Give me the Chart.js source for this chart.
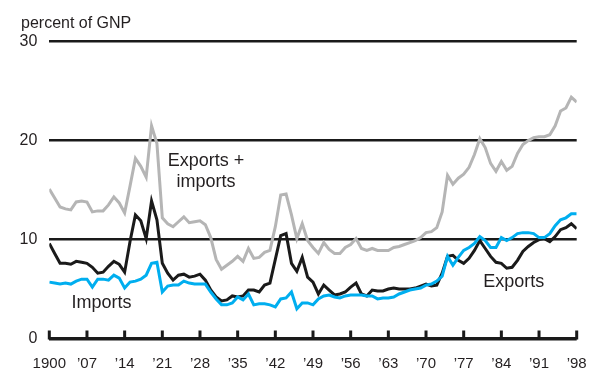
<!DOCTYPE html>
<html><head><meta charset="utf-8">
<script src="https://cdn.jsdelivr.net/npm/chart.js@4/dist/chart.umd.min.js"></script>
<style>html,body{margin:0;padding:0;background:#fff;}canvas{display:block}</style>
</head><body>
<canvas id="c" width="600" height="381"></canvas>
<script>
const years = [1900,1901,1902,1903,1904,1905,1906,1907,1908,1909,
1910,1911,1912,1913,1914,1915,1916,1917,1918,1919,
1920,1921,1922,1923,1924,1925,1926,1927,1928,1929,
1930,1931,1932,1933,1934,1935,1936,1937,1938,1939,
1940,1941,1942,1943,1944,1945,1946,1947,1948,1949,
1950,1951,1952,1953,1954,1955,1956,1957,1958,1959,
1960,1961,1962,1963,1964,1965,1966,1967,1968,1969,
1970,1971,1972,1973,1974,1975,1976,1977,1978,1979,
1980,1981,1982,1983,1984,1985,1986,1987,1988,1989,
1990,1991,1992,1993,1994,1995,1996,1997,1998];

const exportsPlusImports = [15.1,14.2,13.3,13.1,13.0,13.8,13.9,13.8,12.8,12.9,
12.9,13.5,14.3,13.7,12.7,15.4,18.2,17.4,16.3,21.5,
19.7,12.2,11.6,11.3,11.8,12.3,11.7,11.8,11.9,11.5,
10.2,8.0,7.0,7.4,7.8,8.3,7.8,9.1,8.1,8.2,
8.7,8.9,11.3,14.5,14.6,12.5,10.1,11.6,9.9,9.2,
8.6,9.7,9.0,8.6,8.6,9.2,9.5,10.1,9.1,8.9,
9.1,8.9,8.9,8.9,9.2,9.3,9.5,9.7,9.9,10.2,
10.7,10.8,11.2,12.8,16.5,15.6,16.2,16.6,17.3,18.6,
20.2,19.3,17.7,16.9,17.9,17.0,17.4,18.7,19.6,20.0,
20.3,20.4,20.4,20.6,21.5,23.0,23.3,24.4,23.9];

const exportsSeries = [9.6,8.6,7.6,7.6,7.5,7.8,7.7,7.6,7.2,6.6,
6.7,7.3,7.8,7.5,6.7,9.8,12.5,11.9,10.1,13.9,
12.0,7.6,6.6,5.9,6.4,6.5,6.2,6.3,6.5,5.9,
4.9,4.2,3.8,3.9,4.3,4.2,4.3,4.9,4.9,4.7,
5.4,5.6,8.0,10.4,10.6,7.6,6.8,8.2,6.2,5.7,
4.5,5.4,4.9,4.4,4.5,4.7,5.2,5.6,4.5,4.3,
4.9,4.8,4.8,5.0,5.1,5.0,5.0,5.0,5.1,5.3,
5.5,5.3,5.4,6.6,8.3,8.4,7.9,7.6,8.1,8.9,
9.9,9.1,8.3,7.7,7.6,7.1,7.2,7.9,8.8,9.3,
9.7,10.0,10.1,9.8,10.3,11.0,11.2,11.6,11.1];

const importsSeries = [5.7,5.6,5.5,5.6,5.5,5.8,6.0,6.0,5.2,6.0,
6.0,5.9,6.4,6.1,5.1,5.7,5.8,6.0,6.4,7.6,
7.7,4.7,5.3,5.4,5.4,5.8,5.6,5.5,5.5,5.5,
4.7,4.0,3.4,3.4,3.6,4.2,3.9,4.5,3.4,3.5,
3.5,3.4,3.2,4.0,4.1,4.7,3.0,3.6,3.6,3.4,
4.0,4.3,4.4,4.2,4.1,4.3,4.4,4.4,4.4,4.3,
4.3,4.0,4.1,4.1,4.2,4.5,4.7,4.9,5.0,5.1,
5.4,5.5,5.8,6.3,8.3,7.4,8.2,8.9,9.2,9.6,
10.3,9.9,9.2,9.2,10.2,9.9,10.2,10.6,10.7,10.7,
10.6,10.2,10.2,10.6,11.4,12.0,12.2,12.6,12.6];

const xTickYears = [1900,1907,1914,1921,1928,1935,1942,1949,1956,1963,1970,1977,1984,1991,1998];
const xTickLabels = ['1900','\u201907','\u201914','\u201921','\u201928','\u201935','\u201942','\u201949','\u201956','\u201963','\u201970','\u201977','\u201984','\u201991','\u201998'];
const yTickValues = [0,10,20,30];
const yUnitLabel = 'percent of GNP';
const seriesNames = ['Exports + imports','Exports','Imports'];

const FONT = '"Liberation Sans", Arial, Helvetica, sans-serif';
const TEXT = '#231f20';

const annotations = [
  {text:'Exports +', x:1929.1, y:17.4},
  {text:'imports', x:1929.1, y:15.35},
  {text:'Imports', x:1909.7, y:3.05},
  {text:'Exports', x:1986.3, y:5.2}
];

const pts = arr => years.map((yr,i)=>({x:yr, y:arr[i]}));

const extras = {
  id:'extras',
  afterDraw(chart){
    const ctx = chart.ctx;
    const xs = chart.scales.x, ys = chart.scales.y;
    ctx.save();
    ctx.setLineDash([]);
    ctx.globalAlpha = 1;
    ctx.fillStyle = '#1a1a1a';
    const y0 = ys.getPixelForValue(0);
    xTickYears.forEach(v=>{
      const px = xs.getPixelForValue(v);
      ctx.fillRect(px - 1.5, y0 - 8, 3, 9);
    });
    ctx.fillStyle = TEXT;
    ctx.font = '16px ' + FONT;
    ctx.textAlign = 'left';
    ctx.textBaseline = 'alphabetic';
    ctx.fillText(yUnitLabel, 21, 27.5);
    ctx.font = '18px ' + FONT;
    ctx.textAlign = 'center';
    annotations.forEach(a=>{
      ctx.fillText(a.text, xs.getPixelForValue(a.x), ys.getPixelForValue(a.y));
    });
    ctx.restore();
  }
};

new Chart(document.getElementById('c'), {
  type:'line',
  data:{
    datasets:[
      {label:seriesNames[2], data:pts(importsSeries), borderColor:'#00aeef', borderWidth:3, pointRadius:0, tension:0, order:1},
      {label:seriesNames[1], data:pts(exportsSeries), borderColor:'#1a1a1a', borderWidth:3, pointRadius:0, tension:0, order:2},
      {label:seriesNames[0], data:pts(exportsPlusImports), borderColor:'#b5b5b5', borderWidth:3, pointRadius:0, tension:0, order:3}
    ]
  },
  options:{
    responsive:false,
    devicePixelRatio:1,
    animation:false,
    layout:{padding:{top:41.7, right:23.3, left:0, bottom:0}},
    plugins:{legend:{display:false}, tooltip:{enabled:false}, title:{display:false}},
    scales:{
      x:{
        type:'linear', min:1900, max:1998,
        afterBuildTicks(s){ s.ticks = xTickYears.map(v=>({value:v})); },
        afterFit(s){ s.height = 42.5; },
        grid:{display:false},
        border:{display:false},
        ticks:{autoSkip:false, maxRotation:0, padding:8, color:TEXT, font:{family:FONT, size:15},
          callback:(v)=>xTickLabels[xTickYears.indexOf(v)]}
      },
      y:{
        min:0, max:30,
        afterBuildTicks(s){ s.ticks = yTickValues.map(v=>({value:v})); },
        afterFit(s){ s.width = 49.3; },
        grid:{color:'#1a1a1a', lineWidth:(c)=> (c.tick && c.tick.value===0) ? 3.5 : 2.5, drawTicks:false},
        border:{display:false},
        ticks:{padding:12, color:TEXT, font:{family:FONT, size:16}}
      }
    }
  },
  plugins:[extras]
});
</script>
</body></html>
